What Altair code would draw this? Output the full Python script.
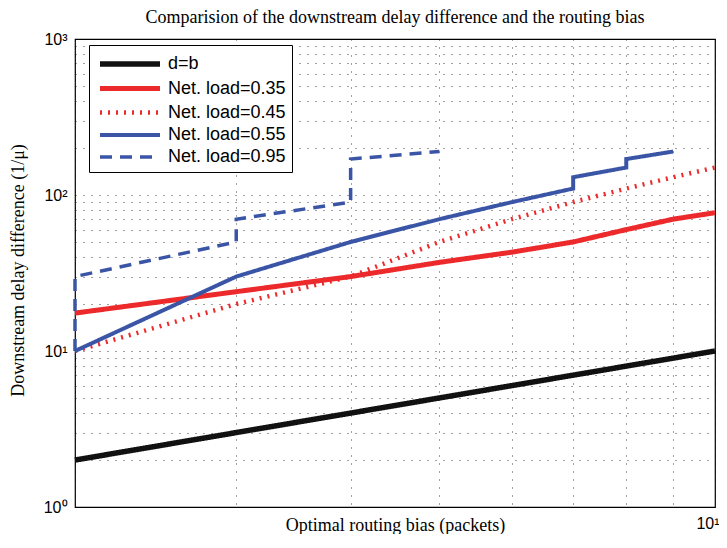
import altair as alt
import pandas as pd

# ---- data ----
series_names = ["d=b", "Net. load=0.35", "Net. load=0.45", "Net. load=0.55", "Net. load=0.95"]

db_x = [2, 3, 4, 5, 6, 7, 8, 9, 10]
db_y = [2, 3, 4, 5, 6, 7, 8, 9, 10]

l35_x = [2, 3, 4, 5, 6, 7, 8, 9, 10]
l35_y = [17.5, 24, 30, 37, 43, 50, 60, 70, 77]

l45_x = [2, 3, 4, 5, 6, 7, 8, 9, 10]
l45_y = [10, 20, 30, 50, 70, 90, 110, 130, 150]

l55_x = [2, 3, 4, 5, 6, 7, 7, 8, 8, 9]
l55_y = [10, 30, 50, 70, 90, 110, 130, 150, 170, 190]

l95_x = [2, 2, 3, 3, 4, 4, 5]
l95_y = [10, 30, 50, 70, 90, 170, 190]

x_grid = [2, 3, 4, 5, 6, 7, 8, 9, 10]
y_grid = [1, 2, 3, 4, 5, 6, 7, 8, 9,
          10, 20, 30, 40, 50, 60, 70, 80, 90,
          100, 200, 300, 400, 500, 600, 700, 800, 900, 1000]

colors = ["#111111", "#EC2A2C", "#EC2A2C", "#3A55A6", "#3A55A6"]
dashes = [[1, 0], [1, 0], [2, 6], [1, 0], [12, 8]]
widths = [5.5, 3.5, 2.5, 3.5, 3.5]

rows = []
for name, xs, ys in zip(series_names,
                        [db_x, l35_x, l45_x, l55_x, l95_x],
                        [db_y, l35_y, l45_y, l55_y, l95_y]):
    for i, (xv, yv) in enumerate(zip(xs, ys)):
        rows.append({"series": name, "x": xv, "y": yv, "order": i})
df = pd.DataFrame(rows)

legend = alt.Legend(
    title=None, orient="none", legendX=14, legendY=6,
    symbolType="M0,0H6", symbolSize=400, symbolOffset=-8, labelOffset=55,
    labelFont="Liberation Sans", labelFontSize=18, labelColor="black",
    padding=6, rowPadding=1, strokeColor="black", fillColor="white",
    labelLimit=300,
)

xlabel = "datum.value == 10 ? '10¹' : ''"
ylabel = ("datum.value == 1 ? '10⁰' : datum.value == 10 ? '10¹' : "
          "datum.value == 100 ? '10²' : datum.value == 1000 ? '10³' : ''")

grid_kw = dict(grid=True, gridDash=[1, 7], gridColor="#000000", gridOpacity=0.75,
               gridWidth=1, ticks=False, domain=False, labelOverlap=False,
               labelFont="Liberation Sans", labelFontSize=16,
               labelColor="black", titleFont="Liberation Serif", titleFontSize=18,
               titleFontWeight="normal", titleColor="black")

chart = alt.Chart(df).mark_line(strokeCap="butt", strokeJoin="miter").encode(
    x=alt.X("x:Q", scale=alt.Scale(type="log", domain=[2, 10], nice=False),
            axis=alt.Axis(values=x_grid, labelExpr=xlabel, labelPadding=8,
                          labelAlign="right", labelOffset=4, labelFlush=False,
                          title="Optimal routing bias (packets)",
                          titleY=27, titleBaseline="bottom", **grid_kw)),
    y=alt.Y("y:Q", scale=alt.Scale(type="log", domain=[1, 1000], nice=False),
            axis=alt.Axis(values=y_grid, labelExpr=ylabel, labelPadding=8,
                          labelFlush=False,
                          title="Downstream delay difference (1/μ)",
                          titleX=-57, titleY=231, titleAngle=270,
                          titleBaseline="middle", titleAlign="center", **grid_kw)),
    color=alt.Color("series:N", scale=alt.Scale(domain=series_names, range=colors),
                    legend=legend),
    strokeDash=alt.StrokeDash("series:N", scale=alt.Scale(domain=series_names, range=dashes),
                              legend=legend),
    strokeWidth=alt.StrokeWidth("series:N", scale=alt.Scale(domain=series_names, range=widths),
                                legend=legend),
    order="order:Q",
).properties(
    width=640, height=468,
    padding={"left": 67, "top": 31, "right": 4, "bottom": 27},
    autosize=alt.AutoSizeParams(type="none"),
    title=alt.Title("Comparision of the downstream delay difference and the routing  bias",
                    font="Liberation Serif", fontSize=18, fontWeight="normal",
                    color="black", offset=4, anchor="middle"),
).configure_view(stroke="black", strokeWidth=1.2)

chart.save("out.html", embed_options={"renderer": "svg", "actions": False})
